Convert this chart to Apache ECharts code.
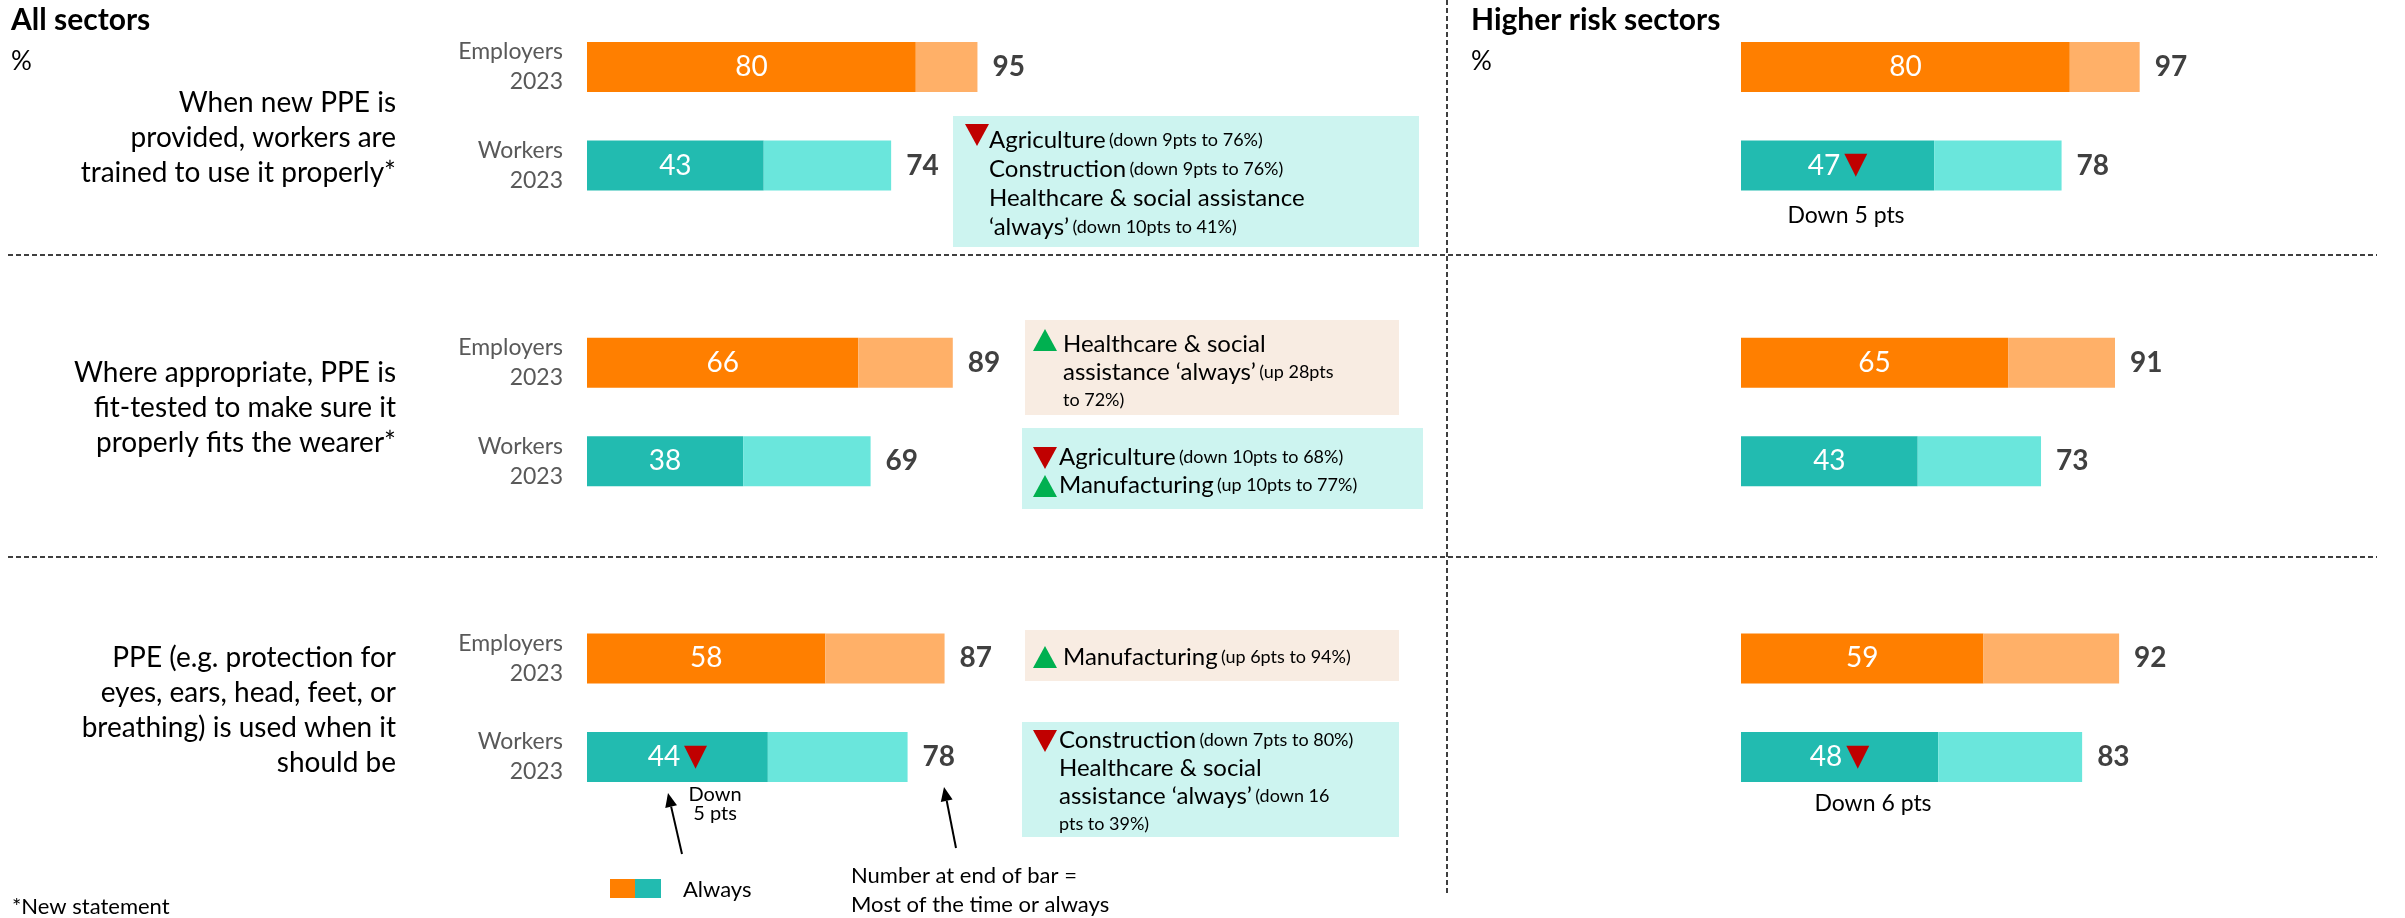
<!DOCTYPE html>
<html>
<head>
<meta charset="utf-8">
<script src="https://cdn.jsdelivr.net/npm/echarts@6.0.0/dist/echarts.min.js"></script>
<style>
html, body { margin: 0; padding: 0; background: #fff; }
#main { width: 2405px; height: 918px; }
</style>
</head>
<body>
<div id="main"></div>
<script>
// rows (top to bottom); 'gap' rows are empty slots between the statements
var rowKeys = ['e1', 'w1', 'gap1', 'e2', 'w2', 'gap2', 'e3', 'w3'];
var rowLabels = ['Employers\n2023', 'Workers\n2023', '', 'Employers\n2023', 'Workers\n2023', '', 'Employers\n2023', 'Workers\n2023'];

// All sectors
var allAlways = [80, 43, null, 66, 38, null, 58, 44];
var allTotal = [95, 74, null, 89, 69, null, 87, 78];
var allDown = [false, false, false, false, false, false, false, true];

// Higher risk sectors
var highAlways = [80, 47, null, 65, 43, null, 59, 48];
var highTotal = [97, 78, null, 91, 73, null, 92, 83];
var highDown = [false, true, false, false, false, false, false, true];

var statements = [
    'When new PPE is\nprovided, workers are\ntrained to use it properly*',
    'Where appropriate, PPE is\nfit-tested to make sure it\nproperly fits the wearer*',
    'PPE (e.g. protection for\neyes, ears, head, feet, or\nbreathing) is used when it\nshould be'
];

var FONT = 'Lato, "Open Sans", sans-serif';
var ORANGE = '#FF7F00', ORANGE_L = '#FFB068';
var TEAL = '#22BBB0', TEAL_L = '#6AE6DC';
var RED = '#C00000', GREEN = '#00B050';

function isEmp(i) { return rowKeys[i].charAt(0) === 'e'; }

function barSeries(g, always, total, down) {
    return [{
        type: 'bar', xAxisIndex: g, yAxisIndex: g, stack: 's' + g, barWidth: 50,
        silent: true,
        data: always.map(function (v) { return v == null ? '-' : v; }),
        itemStyle: { color: function (p) { return isEmp(p.dataIndex) ? ORANGE : TEAL; } },
        label: {
            show: true, position: 'inside',
            formatter: function (p) {
                return down[p.dataIndex] ? '{v|' + p.value + '}{t|▼}' : '{v|' + p.value + '}';
            },
            rich: {
                v: { color: '#fff', fontSize: 28, fontFamily: FONT },
                t: { color: RED, fontSize: 30, fontFamily: 'DejaVu Sans', padding: [0, 0, 0, 4] }
            }
        }
    }, {
        type: 'bar', xAxisIndex: g, yAxisIndex: g, stack: 's' + g, barWidth: 50,
        silent: true,
        data: always.map(function (v, i) { return v == null ? '-' : total[i] - v; }),
        itemStyle: { color: function (p) { return isEmp(p.dataIndex) ? ORANGE_L : TEAL_L; } },
        label: {
            show: true, position: 'right', distance: 15,
            formatter: function (p) { return total[p.dataIndex]; },
            fontSize: 28, fontWeight: 'bold', color: '#404040', fontFamily: FONT
        }
    }];
}

function txt(x, y, text, size, opts) {
    opts = opts || {};
    return {
        type: 'text', silent: true,
        style: {
            x: x, y: y, text: text, fill: opts.color || '#000',
            fontSize: size, fontFamily: FONT, fontWeight: opts.bold ? 'bold' : 'normal',
            textAlign: opts.align || 'left', align: opts.align || 'left',
            textVerticalAlign: opts.va || 'middle', verticalAlign: opts.va || 'middle',
            lineHeight: opts.lh || size * 1.25
        }
    };
}

// text with bigger sector name and smaller detail in brackets
function boxText(x, y, text, lh) {
    return {
        type: 'text', silent: true,
        style: {
            x: x, y: y, text: text, textVerticalAlign: 'top', verticalAlign: 'top',
            rich: {
                m: { fill: '#000', fontSize: 24, fontFamily: FONT, lineHeight: lh },
                s: { fill: '#000', fontSize: 18, fontFamily: FONT, lineHeight: lh }
            }
        }
    };
}

function rect(x, y, w, h, color) {
    return { type: 'rect', silent: true, shape: { x: x, y: y, width: w, height: h }, style: { fill: color } };
}

function tri(x, y, up) {
    var pts = up ? [[x + 12, y], [x + 24, y + 22], [x, y + 22]] : [[x, y], [x + 24, y], [x + 12, y + 22]];
    return { type: 'polygon', silent: true, shape: { points: pts }, style: { fill: up ? GREEN : RED } };
}

function dash(x1, y1, x2, y2) {
    return {
        type: 'line', silent: true, shape: { x1: x1, y1: y1, x2: x2, y2: y2 },
        style: { stroke: '#000', lineWidth: 1.5, lineDash: [5, 3] }
    };
}

function arrow(x1, y1, x2, y2) {
    var dx = x2 - x1, dy = y2 - y1, len = Math.sqrt(dx * dx + dy * dy);
    var ux = dx / len, uy = dy / len, hl = 14, hw = 6;
    var bx = x2 - ux * hl, by = y2 - uy * hl;
    return [{
        type: 'line', silent: true, shape: { x1: x1, y1: y1, x2: bx, y2: by },
        style: { stroke: '#000', lineWidth: 2 }
    }, {
        type: 'polygon', silent: true,
        shape: { points: [[x2, y2], [bx - uy * hw, by + ux * hw], [bx + uy * hw, by - ux * hw]] },
        style: { fill: '#000' }
    }];
}

var graphics = [
    dash(8, 255, 2377, 255),
    dash(8, 557, 2377, 557),
    dash(1447, 0, 1447, 893),
    txt(11, 20, 'All sectors', 30, { bold: true }),
    txt(11, 62, '%', 26),
    txt(1471, 20, 'Higher risk sectors', 30, { bold: true }),
    txt(1471, 62, '%', 26),
    txt(396, 138, statements[0], 28, { align: 'right', lh: 35 }),
    txt(396, 408, statements[1], 28, { align: 'right', lh: 35 }),
    txt(396, 710, statements[2], 28, { align: 'right', lh: 35 }),

    rect(953, 116, 466, 131, '#CDF4F0'),
    tri(965, 124, false),
    boxText(989, 126, '{m|Agriculture} {s|(down 9pts to 76%)}\n{m|Construction} {s|(down 9pts to 76%)}\n{m|Healthcare & social assistance}\n{m|\u2018always\u2019} {s|(down 10pts to 41%)}', 29),

    rect(1025, 320, 374, 95, '#F8ECE2'),
    tri(1033, 329, true),
    boxText(1063, 330, '{m|Healthcare & social}\n{m|assistance \u2018always\u2019} {s|(up 28pts}\n{s|to 72%)}', 28),

    rect(1022, 428, 401, 81, '#CDF4F0'),
    tri(1033, 447, false),
    tri(1033, 475, true),
    boxText(1059, 443, '{m|Agriculture} {s|(down 10pts to 68%)}\n{m|Manufacturing} {s|(up 10pts to 77%)}', 28),

    rect(1025, 630, 374, 51, '#F8ECE2'),
    tri(1033, 646, true),
    boxText(1063, 643, '{m|Manufacturing} {s|(up 6pts to 94%)}', 28),

    rect(1022, 722, 377, 115, '#CDF4F0'),
    tri(1033, 730, false),
    boxText(1059, 726, '{m|Construction} {s|(down 7pts to 80%)}\n{m|Healthcare & social}\n{m|assistance \u2018always\u2019} {s|(down 16}\n{s|pts to 39%)}', 28),

    txt(715, 804, 'Down\n5 pts', 20, { align: 'center', lh: 19 }),
    txt(1846, 216, 'Down 5 pts', 23, { align: 'center' }),
    txt(1873, 804, 'Down 6 pts', 23, { align: 'center' }),

    rect(610, 879, 25, 19, ORANGE),
    rect(635, 879, 26, 19, TEAL),
    txt(683, 890, 'Always', 22),
    txt(851, 890, 'Number at end of bar =\nMost of the time or always', 22, { lh: 29 }),
    txt(12, 907, '*New statement', 22)
].concat(arrow(682, 854, 668, 793), arrow(956, 848, 944, 787));

var gridTop = 17.7, gridH = 788.6;

var option = {
    animation: false,
    backgroundColor: '#fff',
    grid: [
        { left: 587, top: gridTop, width: 411, height: gridH, containLabel: false, outerBoundsMode: 'none' },
        { left: 1741, top: gridTop, width: 411, height: gridH, containLabel: false, outerBoundsMode: 'none' }
    ],
    xAxis: [
        { gridIndex: 0, type: 'value', min: 0, max: 100, show: false },
        { gridIndex: 1, type: 'value', min: 0, max: 100, show: false }
    ],
    yAxis: [{
        gridIndex: 0, type: 'category', inverse: true, data: rowKeys,
        axisLine: { show: false }, axisTick: { show: false }, splitLine: { show: false },
        axisLabel: {
            interval: 0, margin: 24, color: '#595959', fontSize: 23, fontFamily: FONT, lineHeight: 30, align: 'right',
            formatter: function (v, i) { return rowLabels[i]; }
        }
    }, {
        gridIndex: 1, type: 'category', inverse: true, data: rowKeys,
        axisLine: { show: false }, axisTick: { show: false }, splitLine: { show: false },
        axisLabel: { show: false }
    }],
    series: barSeries(0, allAlways, allTotal, allDown).concat(barSeries(1, highAlways, highTotal, highDown)),
    graphic: graphics
};

var chart = echarts.init(document.getElementById('main'));
chart.setOption(option);
</script>
</body>
</html>
